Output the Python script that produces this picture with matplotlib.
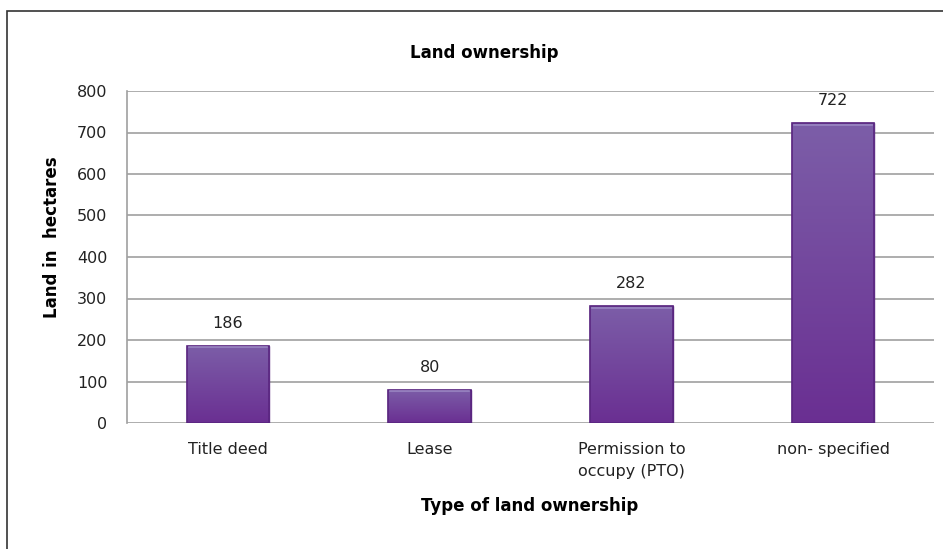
import numpy as np
import matplotlib.pyplot as plt
from matplotlib.patches import Rectangle
from matplotlib.colors import LinearSegmentedColormap

# Datos
categorias = ["Title deed", "Lease", "Permission to\noccupy (PTO)", "non- specified"]
hectareas = [186, 80, 282, 722]
ticks_y = [0, 100, 200, 300, 400, 500, 600, 700, 800]

fig = plt.figure(figsize=(9.43, 5.49), dpi=100)
ax = fig.add_axes([127 / 943, 1 - 423 / 549, 807 / 943, 332 / 549])

x = np.arange(len(categorias))
barras = ax.bar(x, hectareas, width=0.41, color='#74499e',
                edgecolor='#5c2a80', linewidth=1.0, zorder=3)

# Degradado vertical dentro de cada barra
degradado = LinearSegmentedColormap.from_list('morado', ['#6a2f92', '#7c5ea8'])
grad = np.linspace(0, 1, 256).reshape(-1, 1)
for b in barras:
    x0, y0 = b.get_x(), b.get_y()
    w, h = b.get_width(), b.get_height()
    im = ax.imshow(grad, cmap=degradado, aspect='auto', origin='lower',
                   extent=[x0, x0 + w, y0, y0 + h], zorder=3.5)
    im.set_clip_path(b)
    # borde biselado
    ax.add_patch(Rectangle((x0, y0), w, h, fill=False, edgecolor='#5a2680',
                           linewidth=1.2, zorder=4))
    ax.plot([x0 + 0.01, x0 + w - 0.01], [y0 + h - 4, y0 + h - 4],
            color='#9a86c2', linewidth=1.2, zorder=4)

for xi, v in zip(x, hectareas):
    ax.text(xi, v + 36, str(v), ha='center', va='bottom', fontsize=11.5,
            family='DejaVu Sans', color='#222222')

ax.set_xlim(-0.5, len(categorias) - 0.5)
ax.set_ylim(0, 800)
ax.set_yticks(ticks_y)
ax.set_yticklabels([str(t) for t in ticks_y], fontsize=11.5, family='DejaVu Sans',
                   color='#222222')
ax.set_xticks(x)
ax.set_xticklabels(categorias, fontsize=11.5, family='DejaVu Sans', linespacing=1.55,
                   color='#222222')
ax.tick_params(axis='y', length=0, pad=14)
ax.tick_params(axis='x', length=0, pad=14)

ax.grid(axis='y', color='#a0a0a0', linewidth=1.2, zorder=0)
for lado in ['top', 'right', 'bottom']:
    ax.spines[lado].set_visible(False)
ax.spines['left'].set_color('#a0a0a0')
ax.spines['left'].set_linewidth(1.2)

fig.text(484 / 943, 1 - 53 / 549, 'Land ownership', ha='center', va='center',
         fontsize=12, fontweight='bold', family='DejaVu Sans')
fig.text(530 / 943, 1 - 506 / 549, 'Type of land ownership', ha='center', va='center',
         fontsize=12, fontweight='bold', family='DejaVu Sans')
fig.text(52 / 943, 1 - 237 / 549, 'Land in  hectares', ha='center', va='center',
         rotation=90, fontsize=12, fontweight='bold', family='DejaVu Sans')

# Marco exterior
fig.patches.append(Rectangle((7 / 943, -0.1), 1.1, 1 - 11 / 549 + 0.1,
                             transform=fig.transFigure, fill=False,
                             edgecolor='#333333', linewidth=1.2))

plt.savefig('out.png', dpi=100)
